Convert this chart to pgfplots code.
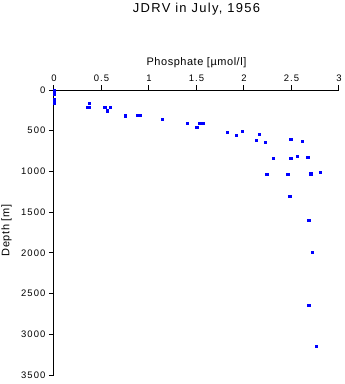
\documentclass[border=0pt]{standalone}
\usepackage{fontspec}
\setmainfont{Liberation Sans}
\newfontfamily\tickfont[LetterSpace=12]{Liberation Sans}
\newfontfamily\labfont[LetterSpace=5]{Liberation Sans}
\newfontfamily\titfont[LetterSpace=10]{Liberation Sans}
\usepackage{pgfplots}
\pgfplotsset{compat=1.18}
\begin{document}
\begin{tikzpicture}
\useasboundingbox (-54bp,-9bp) rectangle (291bp,375bp);
\begin{axis}[
  at={(0,0)}, anchor=south west,
  scale only axis, width=285bp, height=285bp,
  xmin=0, xmax=3, ymin=0, ymax=3500,
  y dir=reverse,
  axis x line*=top, axis y line*=left,
  axis line style={line width=1bp, -},
  tick style={line width=1bp, black},
  major tick length=5bp,
  tick align=outside,
  xtick={0,0.5,1,1.5,2,2.5,3},
  ytick={0,500,1000,1500,2000,2500,3000,3500},
  scaled ticks=false,
  /pgf/number format/1000 sep={},
  /pgf/number format/assume math mode=true,
  tick label style={font=\tickfont\fontsize{9.5}{11}\selectfont},
  xlabel={Phosphate [µmol/l]},
  xlabel style={at={(axis description cs:0.5,1)}, anchor=base, yshift=25bp, font=\labfont\fontsize{11}{13}\selectfont},
  clip=false,
]
\addplot[only marks, mark=square*, mark size=1.2bp, color=blue, mark options={draw=none, fill=blue}] coordinates {
(0,0) (0,10) (0,20) (0,30) (0,50) (0,115) (0,135) (0,155)
(0.37,160) (0.35,212) (0.37,212)
(0.534,213) (0.59,213) (0.559,254)
(0.748,316) (0.875,311) (0.91,311)
(1.14,360)
(1.40,410) (1.50,459) (1.535,410) (1.57,410)
(1.82,516) (1.918,553) (1.98,508)
(2.16,541) (2.13,618) (2.22,643)
(2.49,606) (2.61,631)
(2.31,839) (2.49,839) (2.56,815) (2.67,827)
(2.24,1036) (2.46,1036) (2.70,1028) (2.80,1011)
(2.48,1306) (2.68,1601) (2.72,1994) (2.68,2645) (2.76,3149)
};
\end{axis}
\node[anchor=base, rotate=90, font=\labfont\fontsize{11}{13}\selectfont] at (-44.7bp,144.5bp) {Depth [m]};
\node[anchor=base, font=\titfont\fontsize{13}{15}\selectfont] at (142.5bp,362.3bp) {JDRV in July, 1956};
\end{tikzpicture}
\end{document}
